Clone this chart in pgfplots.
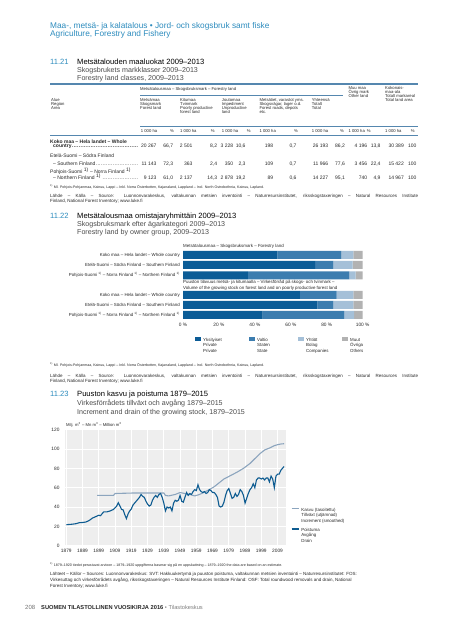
\documentclass[border=0pt]{standalone}
\usepackage{fontspec}
\setmainfont{Liberation Sans}
\usepackage{pgfplots}
\pgfplotsset{compat=1.18}
\definecolor{hdr}{RGB}{45,140,190}
\definecolor{rulec}{RGB}{85,135,175}
\definecolor{cPriv}{RGB}{12,92,150}
\definecolor{cState}{RGB}{60,125,175}
\definecolor{cComp}{RGB}{165,192,216}
\definecolor{cOth}{RGB}{178,178,178}
\definecolor{bgc}{RGB}{238,238,238}
\definecolor{cDrain}{RGB}{14,92,145}
\definecolor{cIncr}{RGB}{140,165,190}
\definecolor{txt}{RGB}{40,40,40}
\definecolor{subc}{RGB}{75,75,75}
\newcommand\fsz[2]{\fontsize{#1}{#2}\selectfont}
\newcommand\T[4][]{\node[anchor=base west,inner sep=0,#1] at (#2,640-#3) {#4};}
\newcommand\V[3]{\node[anchor=base east,inner sep=0] at (#1,640-#2) {#3};}
\newcommand\dotted[2]{\makebox[#1][l]{#2\leaders\hbox to 1.7pt{\hss.\hss}\hfill}}
\begin{document}
\begin{tikzpicture}[x=1pt,y=1pt]
\fill[white] (0,0) rectangle (450,640);
% ---------- page header
\T[text=hdr,font=\fsz{8.3}{9}]{50}{28.6}{Maa-, metsä- ja kalatalous • Jord- och skogsbruk samt fiske}
\T[text=hdr,font=\fsz{8.3}{9}]{50}{36.6}{Agriculture, Forestry and Fishery}
% ---------- 11.21
\T[text=hdr,font=\fsz{7.6}{8}]{50}{64.5}{11.21}
\T[text=black,font=\fsz{7.6}{8}]{77}{64.5}{Metsätalouden maaluokat 2009–2013}
\T[text=subc,font=\fsz{7.1}{8}]{77}{72.5}{Skogsbrukets markklasser 2009–2013}
\T[text=subc,font=\fsz{7.1}{8}]{77}{80.5}{Forestry land classes, 2009–2013}
\draw[rulec,line width=1.1pt] (50,640-84) -- (418,640-84);
\begin{scope}[font=\fsz{4.2}{4}, text=txt]
\T{140}{90.3}{Metsätalousmaa – Skogsbruksmark – Forestry land}
\draw[rulec,line width=0.5pt] (140,640-95) -- (343,640-95);
\T{348.3}{89.8}{Muu maa}\T{348.3}{93.6}{Övrig mark}\T{348.3}{97.4}{Other land}
\T{385}{89.8}{Kokonais-}\T{385}{93.6}{maa-ala}\T{385}{97.4}{Totalt markareal}\T{385}{101.2}{Total land area}
\T{51}{102}{Alue}\T{51}{105.8}{Region}\T{51}{109.6}{Area}
\T{140}{102}{Metsämaa}\T{140}{105.8}{Skogsmark}\T{140}{109.6}{Forest land}
\T{180}{102}{Kitumaa}\T{180}{105.8}{Tvinmark}\T{180}{109.6}{Poorly productive}\T{180}{113.4}{forest land}
\T{221.7}{102}{Joutomaa}\T{221.7}{105.8}{Impediment}\T{221.7}{109.6}{Unproductive}\T{221.7}{113.4}{land}
\T{259.3}{102}{Metsätiet, varastot yms.}\T{259.3}{105.8}{Skogsvägar, lager o.d.}\T{259.3}{109.6}{Forest roads, depots}\T{259.3}{113.4}{etc.}
\T{311.7}{102}{Yhteensä}\T{311.7}{105.8}{Totalt}\T{311.7}{109.6}{Total}
\draw[rulec,line width=0.5pt] (140,640-126) -- (418,640-126);
\T{140.7}{132.3}{1 000 ha}\T{170}{132.3}{\%}
\T{180}{132.3}{1 000 ha}\T{210.7}{132.3}{\%}
\T{221.7}{132.3}{1 000 ha}\T{246.7}{132.3}{\%}
\T{259.3}{132.3}{1 000 ha}\T{294}{132.3}{\%}
\T{311.7}{132.3}{1 000 ha}\T{340}{132.3}{\%}
\T{348.3}{132.3}{1 000 ha}\T{366.7}{132.3}{\%}
\T{385}{132.3}{1 000 ha}\T{410.7}{132.3}{\%}
\end{scope}
\draw[rulec,line width=1.1pt] (50,640-135.5) -- (418,640-135.5);
\begin{scope}[font=\fsz{5}{5}, text=txt]
\T[font=\fsz{5}{5}\bfseries]{50}{143.3}{Koko maa – Hela landet – Whole}
\T[font=\fsz{5}{5}\bfseries]{53}{147.8}{\dotted{85pt}{country}}
\V{156.7}{147.8}{20 267}\V{173.3}{147.8}{66,7}\V{192.7}{147.8}{2 501}\V{217.3}{147.8}{8,2}\V{233.3}{147.8}{3 228}\V{245.7}{147.8}{10,6}\V{273.3}{147.8}{198}\V{296.7}{147.8}{0,7}\V{328.3}{147.8}{26 193}\V{345}{147.8}{86,2}\V{367.3}{147.8}{4 196}\V{380.7}{147.8}{13,8}\V{404}{147.8}{30 389}\V{416.7}{147.8}{100}
\T{50}{157.5}{Etelä-Suomi – Södra Finland}
\T{53}{165.3}{\dotted{85pt}{– Southern Finland}}
\V{156.7}{165.3}{11 143}\V{173.3}{165.3}{72,3}\V{192.7}{165.3}{363}\V{217.3}{165.3}{2,4}\V{233.3}{165.3}{350}\V{245.7}{165.3}{2,3}\V{273.3}{165.3}{109}\V{296.7}{165.3}{0,7}\V{328.3}{165.3}{11 966}\V{345}{165.3}{77,6}\V{367.3}{165.3}{3 456}\V{380.7}{165.3}{22,4}\V{404}{165.3}{15 422}\V{416.7}{165.3}{100}
\T{50}{173.8}{Pohjois-Suomi \textsuperscript{1)} – Norra Finland \textsuperscript{1)}}
\T{53}{180}{\dotted{85pt}{– Northern Finland \textsuperscript{1)}}}
\V{156.7}{180}{9 123}\V{173.3}{180}{61,0}\V{192.7}{180}{2 137}\V{217.3}{180}{14,3}\V{233.3}{180}{2 878}\V{245.7}{180}{19,2}\V{273.3}{180}{89}\V{296.7}{180}{0,6}\V{328.3}{180}{14 227}\V{345}{180}{95,1}\V{367.3}{180}{740}\V{380.7}{180}{4,9}\V{404}{180}{14 967}\V{416.7}{180}{100}
\end{scope}
\T[text=txt,font=\fsz{3.6}{4}]{50}{189}{\textsuperscript{1)} Ml. Pohjois-Pohjanmaa, Kainuu, Lappi – Inkl. Norra Österbotten, Kajanaland, Lappland – Incl. North Ostrobothnia, Kainuu, Lapland.}
\node[anchor=north west,inner sep=0,text width=368pt,align=justify,text=txt,font=\fsz{4.5}{5.4}] at (50,640-194) {Lähde – Källa – Source: Luonnonvarakeskus, valtakunnan metsien inventointi – Naturresursinstitutet, riksskogstaxeringen – Natural Resources Institute\linebreak Finland, National Forest Inventory; www.luke.fi};
% ---------- 11.22
\T[text=hdr,font=\fsz{7.6}{8}]{50}{219}{11.22}
\T[text=black,font=\fsz{7.6}{8}]{77}{219}{Metsätalousmaa omistajaryhmittäin 2009–2013}
\T[text=subc,font=\fsz{7.1}{8}]{77}{226.8}{Skogsbruksmark efter ägarkategori 2009–2013}
\T[text=subc,font=\fsz{7.1}{8}]{77}{234.6}{Forestry land by owner group, 2009–2013}
\T[text=txt,font=\fsz{4.4}{5}]{183}{247.6}{Metsätalousmaa – Skogsbruksmark – Forestry land}
\T[text=txt,font=\fsz{4.4}{5}]{183}{284}{Puuston tilavuus metsä- ja kitumaalla – Virkesförråd på skogs- och tvinmark –}
\T[text=txt,font=\fsz{4.4}{5}]{183}{289.3}{Volume of the growing stock on forest land and on poorly productive forest land}
\begin{axis}[at={(183pt,320pt)}, anchor=south west, scale only axis,
  width=179.7pt, height=70pt, xmin=0, xmax=100, ymin=320, ymax=390,
  xbar stacked, bar width=8pt, clip=false,
  axis line style={draw=none}, tick style={draw=none},
  xtick={0,20,40,60,80,100}, xticklabels={0 \%,20 \%,40 \%,60 \%,80 \%,100 \%},
  ytick={325,335,345,364.7,375,385},
  yticklabels={Pohjois-Suomi \textsuperscript{1)} – Norra Finland \textsuperscript{1)} – Northern Finland \textsuperscript{1)},Etelä-Suomi – Södra Finland – Southern Finland,Koko maa – Hela landet – Whole country,Pohjois-Suomi \textsuperscript{1)} – Norra Finland \textsuperscript{1)} – Northern Finland \textsuperscript{1)},Etelä-Suomi – Södra Finland – Southern Finland,Koko maa – Hela landet – Whole country},
  tick label style={font=\fsz{4.4}{5}, text=txt},
  xticklabel style={font=\fsz{4.8}{5}, inner sep=0pt, yshift=-3.2pt},
  yticklabel style={inner sep=0pt, xshift=-3pt},
  legend columns=4,
  legend style={at={(0.0668,-0.225)}, anchor=north west, draw=none, fill=none, inner sep=0pt, font=\fsz{4.4}{5.5}, text=txt, column sep=0pt, /tikz/every even column/.append style={column sep=2pt}},
  legend image code/.code={\fill[#1] (0pt,-0.6pt) rectangle (6pt,3.2pt);},
]
\addplot[fill=cPriv, draw=none] coordinates {(52.5,385) (73.5,375) (36.1,364.7) (65.1,345) (74.8,335) (44.3,325)};
\addplot[fill=cState, draw=none] coordinates {(35.6,385) (10.2,375) (56.5,364.7) (20.4,345) (8.9,335) (45.5,325)};
\addplot[fill=cComp, draw=none] coordinates {(6.7,385) (10.7,375) (3.5,364.7) (9.3,345) (11.1,335) (5.4,325)};
\addplot[fill=cOth, draw=none] coordinates {(5.2,385) (5.6,375) (3.9,364.7) (5.2,345) (5.2,335) (4.8,325)};
\addlegendentry{\parbox[t]{42pt}{Yksityiset\\Private\\Private}}
\addlegendentry{\parbox[t]{37pt}{Valtio\\Staten\\State}}
\addlegendentry{\parbox[t]{32pt}{Yhtiöt\\Bolag\\Companies}}
\addlegendentry{\parbox[t]{30pt}{Muut\\Övriga\\Others}}
\end{axis}
\T[text=txt,font=\fsz{3.6}{4}]{50}{366.5}{\textsuperscript{1)} Ml. Pohjois-Pohjanmaa, Kainuu, Lappi – Inkl. Norra Österbotten, Kajanaland, Lappland – Incl. North Ostrobothnia, Kainuu, Lapland.}
\node[anchor=north west,inner sep=0,text width=368pt,align=justify,text=txt,font=\fsz{4.5}{5.4}] at (50,640-374) {Lähde – Källa – Source: Luonnonvarakeskus, valtakunnan metsien inventointi – Naturresursinstitutet, riksskogstaxeringen – Natural Resources Institute\linebreak Finland, National Forest Inventory; www.luke.fi};
% ---------- 11.23
\T[text=hdr,font=\fsz{7.6}{8}]{50}{397}{11.23}
\T[text=black,font=\fsz{7.6}{8}]{77}{397}{Puuston kasvu ja poistuma 1879–2015}
\T[text=subc,font=\fsz{7.1}{8}]{77}{405.8}{Virkesförrådets tillväxt och avgång 1879–2015}
\T[text=subc,font=\fsz{7.1}{8}]{77}{414.4}{Increment and drain of the growing stock, 1879–2015}
\T[text=txt,font=\fsz{4.2}{5}]{66}{426.5}{Milj. m\textsuperscript{3} – Mn m\textsuperscript{3} – Million m\textsuperscript{3}}
\begin{axis}[at={(64.7pt,94.3pt)}, anchor=south west, scale only axis,
  width=221pt, height=116pt, xmin=1878, xmax=2014, ymin=0, ymax=120,
  axis background/.style={fill=bgc},
  axis line style={draw=none}, tick style={draw=none},
  grid=major, major grid style={white, line width=0.7pt},
  xtick={1879,1889,...,2009}, ytick={0,20,...,120},
  tick label style={font=\fsz{4.8}{5}, text=txt, /pgf/number format/assume math mode=true},
  xticklabel style={/pgf/number format/1000 sep={}, inner sep=0pt, yshift=-3pt},
  yticklabel style={inner sep=0pt, xshift=-5pt},
  legend style={at={(1.022,0.345)}, anchor=north west, draw=none, fill=none, inner sep=0pt, font=\fsz{4.4}{5.5}, text=txt, row sep=11.5pt},
  legend cell align=left,
  legend image code/.code={\draw[#1, line width=1.6pt] (0pt,1.6pt) -- (7pt,1.6pt);},
]
\addplot[cIncr, line width=1.1pt] coordinates {(1898,52) (1908,52) (1909,54) (1920,54.5) (1939,54.5) (1940,52) (1942,51.5) (1946,53) (1949,55) (1952,54) (1955,53) (1958,51.5) (1961,53) (1964,55.5) (1967,58) (1970,61) (1973,65) (1976,69) (1980,72.5) (1984,76) (1988,80) (1992,85) (1995,90) (1998,95) (2001,99) (2004,101) (2007,103.5) (2009,104.5) (2011,105.2) (2013,105.5)};
\addlegendentry{\parbox[t]{45pt}{Kasvu (tasoitettu)\\Tillväxt (utjämnad)\\Increment (smoothed)}}
\addplot[cDrain, line width=1.1pt] coordinates {(1879,21.7) (1881,22) (1883,22.3) (1885,22.8) (1887,23.8) (1889,24) (1891,24.5) (1893,26) (1895,28.5) (1897,30) (1899,31.5) (1900,31) (1901,33) (1902,35) (1904,35) (1906,36) (1908,37.5) (1910,41) (1911,44.5) (1912,41) (1913,37.5) (1914,37) (1915,32) (1916,28) (1917,33) (1918,36) (1919,38) (1920,42) (1921,44) (1922,46) (1923,48) (1924,50) (1925,53) (1926,51) (1927,50) (1928,46) (1929,43) (1930,41) (1931,42) (1932,47) (1933,50) (1934,52) (1935,50) (1936,53) (1937,54) (1938,50) (1939,44) (1940,36) (1941,40) (1942,39) (1943,40) (1944,36) (1945,44) (1946,47) (1947,46) (1948,47) (1949,52) (1950,46) (1951,45) (1952,50) (1953,55) (1954,52) (1955,54) (1956,53) (1957,56) (1958,58) (1959,57) (1960,63) (1961,58) (1962,56) (1963,55) (1964,56) (1965,54) (1966,55) (1967,58) (1968,57) (1969,55) (1970,55) (1971,53) (1972,50) (1973,41) (1974,40) (1975,41) (1976,45) (1977,52) (1978,57) (1979,59) (1980,54) (1981,49) (1982,50) (1983,54) (1984,51) (1985,53) (1986,58) (1987,56) (1988,52) (1989,44) (1990,49) (1991,54) (1992,58) (1993,60) (1994,64) (1995,60) (1996,68) (1997,70) (1998,70) (1999,69) (2000,70) (2001,68) (2002,70) (2003,70) (2004,66) (2005,72) (2006,69) (2007,60) (2008,72) (2009,74) (2010,74) (2011,78) (2012,80) (2013,82)};
\addlegendentry{\parbox[t]{45pt}{Poistuma\\Avgång\\Drain}}
\end{axis}
\T[text=txt,font=\fsz{3.6}{4}]{50}{566.3}{\textsuperscript{1)} 1879–1920 tiedot perustuvat arvioon – 1879–1920 uppgifterna baserar sig på en uppskattning – 1879–1920 the data are based on an estimate.}
\node[anchor=north west,inner sep=0,align=left,text=txt,font=\fsz{4.5}{6}] at (50,640-572) {Lähteet – Källor – Sources: Luonnonvarakeskus: SVT: Hakkuukertymä ja puuston poistuma, valtakunnan metsien inventointi – Naturresursinstitutet: FOS:\\Virkesuttag och virkesförrådets avgång, riksskogstaxeringen – Natural Resources Institute Finland: OSF: Total roundwood removals and drain, National\\Forest Inventory; www.luke.fi};
% ---------- footer
\T[text=black!55,font=\fsz{6}{6}]{25}{609.5}{208}
\T[text=black!85,font=\fsz{5.7}{6}\bfseries]{41}{609.5}{SUOMEN TILASTOLLINEN VUOSIKIRJA 2016 \textmd{\textcolor{black!50}{• Tilastokeskus}}}
\end{tikzpicture}
\end{document}
